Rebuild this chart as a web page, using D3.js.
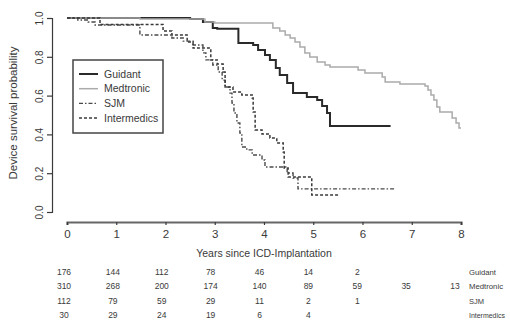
<!DOCTYPE html>
<html>
<head>
<meta charset="utf-8">
<script src="https://cdn.jsdelivr.net/npm/d3@7"></script>
<style>
  body { margin: 0; background: #fff; }
  svg { display: block; font-family: "Liberation Sans", Arial, sans-serif; }
</style>
</head>
<body>
<svg width="510" height="327"></svg>
<script>
// Kaplan-Meier step points: time (years) and survival
const guidantTime = [0, 2.50, 2.76, 2.96, 3.05, 3.48, 3.78, 3.88, 4.02, 4.12, 4.24, 4.32, 4.47, 4.59, 4.87, 5.08, 5.18, 5.28, 5.34, 6.57];
const guidantSurv = [1, 0.995, 0.979, 0.948, 0.945, 0.871, 0.861, 0.835, 0.809, 0.784, 0.742, 0.706, 0.665, 0.613, 0.593, 0.577, 0.546, 0.510, 0.443, 0.443];

const medtronicTime = [0, 1.48, 2.80, 3.00, 4.18, 4.32, 4.43, 4.53, 4.63, 4.73, 4.83, 4.93, 5.08, 5.24, 5.34, 5.91, 6.05, 6.40, 6.46, 6.76, 7.27, 7.33, 7.39, 7.45, 7.51, 7.57, 7.82, 7.90, 7.96, 8.0];
const medtronicSurv = [1, 0.995, 0.979, 0.974, 0.948, 0.933, 0.912, 0.897, 0.876, 0.851, 0.820, 0.799, 0.773, 0.758, 0.747, 0.732, 0.716, 0.696, 0.670, 0.660, 0.649, 0.629, 0.603, 0.577, 0.541, 0.515, 0.485, 0.459, 0.433, 0.433];

const sjmTime = [0, 0.22, 0.43, 0.57, 1.48, 2.13, 2.36, 2.56, 2.76, 2.82, 2.96, 3.07, 3.15, 3.21, 3.31, 3.35, 3.39, 3.45, 3.51, 3.55, 3.65, 3.76, 3.96, 4.02, 4.47, 4.59, 4.69, 6.66];
const sjmSurv = [1, 0.990, 0.979, 0.964, 0.912, 0.897, 0.881, 0.861, 0.820, 0.784, 0.758, 0.722, 0.680, 0.644, 0.613, 0.562, 0.510, 0.459, 0.407, 0.335, 0.320, 0.294, 0.268, 0.232, 0.201, 0.175, 0.119, 0.119];

const intermedicsTime = [0, 0.67, 1.95, 2.13, 2.44, 2.56, 2.92, 3.05, 3.17, 3.21, 3.37, 3.55, 3.76, 3.78, 3.82, 3.96, 4.12, 4.26, 4.39, 4.41, 4.49, 4.97, 5.54];
const intermedicsSurv = [1, 0.967, 0.933, 0.912, 0.876, 0.845, 0.784, 0.763, 0.722, 0.644, 0.619, 0.603, 0.588, 0.515, 0.423, 0.402, 0.381, 0.356, 0.309, 0.227, 0.180, 0.088, 0.088];

// numbers at risk
const riskYears = [0, 1, 2, 3, 4, 5, 6, 7, 8];
const riskGuidant = [176, 144, 112, 78, 46, 14, 2, null, null];
const riskMedtronic = [310, 268, 200, 174, 140, 89, 59, 35, 13];
const riskSJM = [112, 79, 59, 29, 11, 2, 1, null, null];
const riskIntermedics = [30, 29, 24, 19, 6, 4, null, null, null];

const xTicks = [0, 1, 2, 3, 4, 5, 6, 7, 8];
const yTicks = [0, 0.2, 0.4, 0.6, 0.8, 1.0];

const svg = d3.select("svg");
const ink = "#3a3a3a";

const x = d3.scaleLinear().domain([0, 8]).range([67, 461]);
const y = d3.scaleLinear().domain([0, 1]).range([212, 18]);

// y axis, R style with labels turned sideways
const yAxis = svg.append("g")
  .attr("transform", "translate(52,0)")
  .call(d3.axisLeft(y).tickValues(yTicks).tickFormat(d3.format(".1f")).tickSize(5));
yAxis.selectAll("path").attr("stroke", ink).attr("stroke-width", 1.2);
yAxis.selectAll("line").attr("stroke", ink).attr("stroke-width", 1.2);
yAxis.selectAll("text")
  .attr("fill", ink)
  .attr("font-size", 10)
  .attr("transform", "rotate(-90)")
  .attr("x", 0)
  .attr("y", -9)
  .attr("dy", 0)
  .attr("text-anchor", "middle");

svg.append("text")
  .attr("transform", "translate(17,113) rotate(-90)")
  .attr("text-anchor", "middle")
  .attr("font-size", 11.5)
  .attr("fill", ink)
  .text("Device survival probability");

// x axis
const xAxis = svg.append("g")
  .attr("transform", "translate(0,222)")
  .call(d3.axisBottom(x).tickValues(xTicks).tickFormat(d3.format("d")).tickSize(3));
xAxis.selectAll("path").attr("stroke", "#666").attr("stroke-width", 2.2);
xAxis.selectAll("line").attr("stroke", ink).attr("stroke-width", 1.2);
xAxis.selectAll("text")
  .attr("fill", ink)
  .attr("font-size", 11.5)
  .attr("y", 8);

svg.append("text")
  .attr("x", 264)
  .attr("y", 257)
  .attr("text-anchor", "middle")
  .attr("font-size", 10.5)
  .attr("fill", ink)
  .text("Years since ICD-Implantation");

// survival curves
const series = [
  {name: "Guidant", t: guidantTime, s: guidantSurv, color: "#2a2a2a", width: 2, dash: null},
  {name: "Medtronic", t: medtronicTime, s: medtronicSurv, color: "#ababab", width: 1.5, dash: null},
  {name: "SJM", t: sjmTime, s: sjmSurv, color: "#4a4a4a", width: 1.4, dash: "4,2,1.5,2"},
  {name: "Intermedics", t: intermedicsTime, s: intermedicsSurv, color: "#3a3a3a", width: 1.5, dash: "3,2"}
];

const line = d3.line()
  .x(d => x(d[0]))
  .y(d => y(d[1]))
  .curve(d3.curveStepAfter);

svg.append("g").selectAll("path")
  .data(series)
  .join("path")
    .attr("d", d => line(d3.zip(d.t, d.s)))
    .attr("fill", "none")
    .attr("stroke", d => d.color)
    .attr("stroke-width", d => d.width)
    .attr("stroke-dasharray", d => d.dash);

// legend
const legend = svg.append("g");
legend.append("rect")
  .attr("x", 73).attr("y", 60)
  .attr("width", 90).attr("height", 73)
  .attr("fill", "#fff")
  .attr("stroke", "#444")
  .attr("stroke-width", 1.5);

const item = legend.selectAll("g.item")
  .data(series)
  .join("g")
    .attr("class", "item")
    .attr("transform", (d, i) => "translate(0," + (74 + i * 14.7) + ")");

item.append("line")
  .attr("x1", 79).attr("x2", 98)
  .attr("stroke", d => d.color)
  .attr("stroke-width", d => d.width)
  .attr("stroke-dasharray", d => d.dash);

item.append("text")
  .attr("x", 104)
  .attr("dy", "0.35em")
  .attr("font-size", 10.5)
  .attr("fill", ink)
  .text(d => d.name);

// numbers at risk table
const xr = d3.scaleLinear().domain([0, 8]).range([64, 455]);
const rows = [
  {name: "Guidant", vals: riskGuidant, w: 27},
  {name: "Medtronic", vals: riskMedtronic, w: 34},
  {name: "SJM", vals: riskSJM, w: 15},
  {name: "Intermedics", vals: riskIntermedics, w: 36}
];

const row = svg.append("g").selectAll("g")
  .data(rows)
  .join("g")
    .attr("transform", (d, i) => "translate(0," + (272 + i * 14.5) + ")");

row.selectAll("text.n")
  .data(d => d.vals.map((v, j) => ({v, yr: riskYears[j]})).filter(e => e.v != null))
  .join("text")
    .attr("class", "n")
    .attr("x", e => xr(e.yr))
    .attr("dy", "0.35em")
    .attr("text-anchor", "middle")
    .attr("font-size", 8.5)
    .attr("fill", ink)
    .text(e => e.v);

row.append("text")
  .attr("x", 469)
  .attr("dy", "0.35em")
  .attr("font-size", 8)
  .attr("fill", ink)
  .attr("textLength", d => d.w)
  .attr("lengthAdjust", "spacingAndGlyphs")
  .text(d => d.name);
</script>
</body>
</html>
